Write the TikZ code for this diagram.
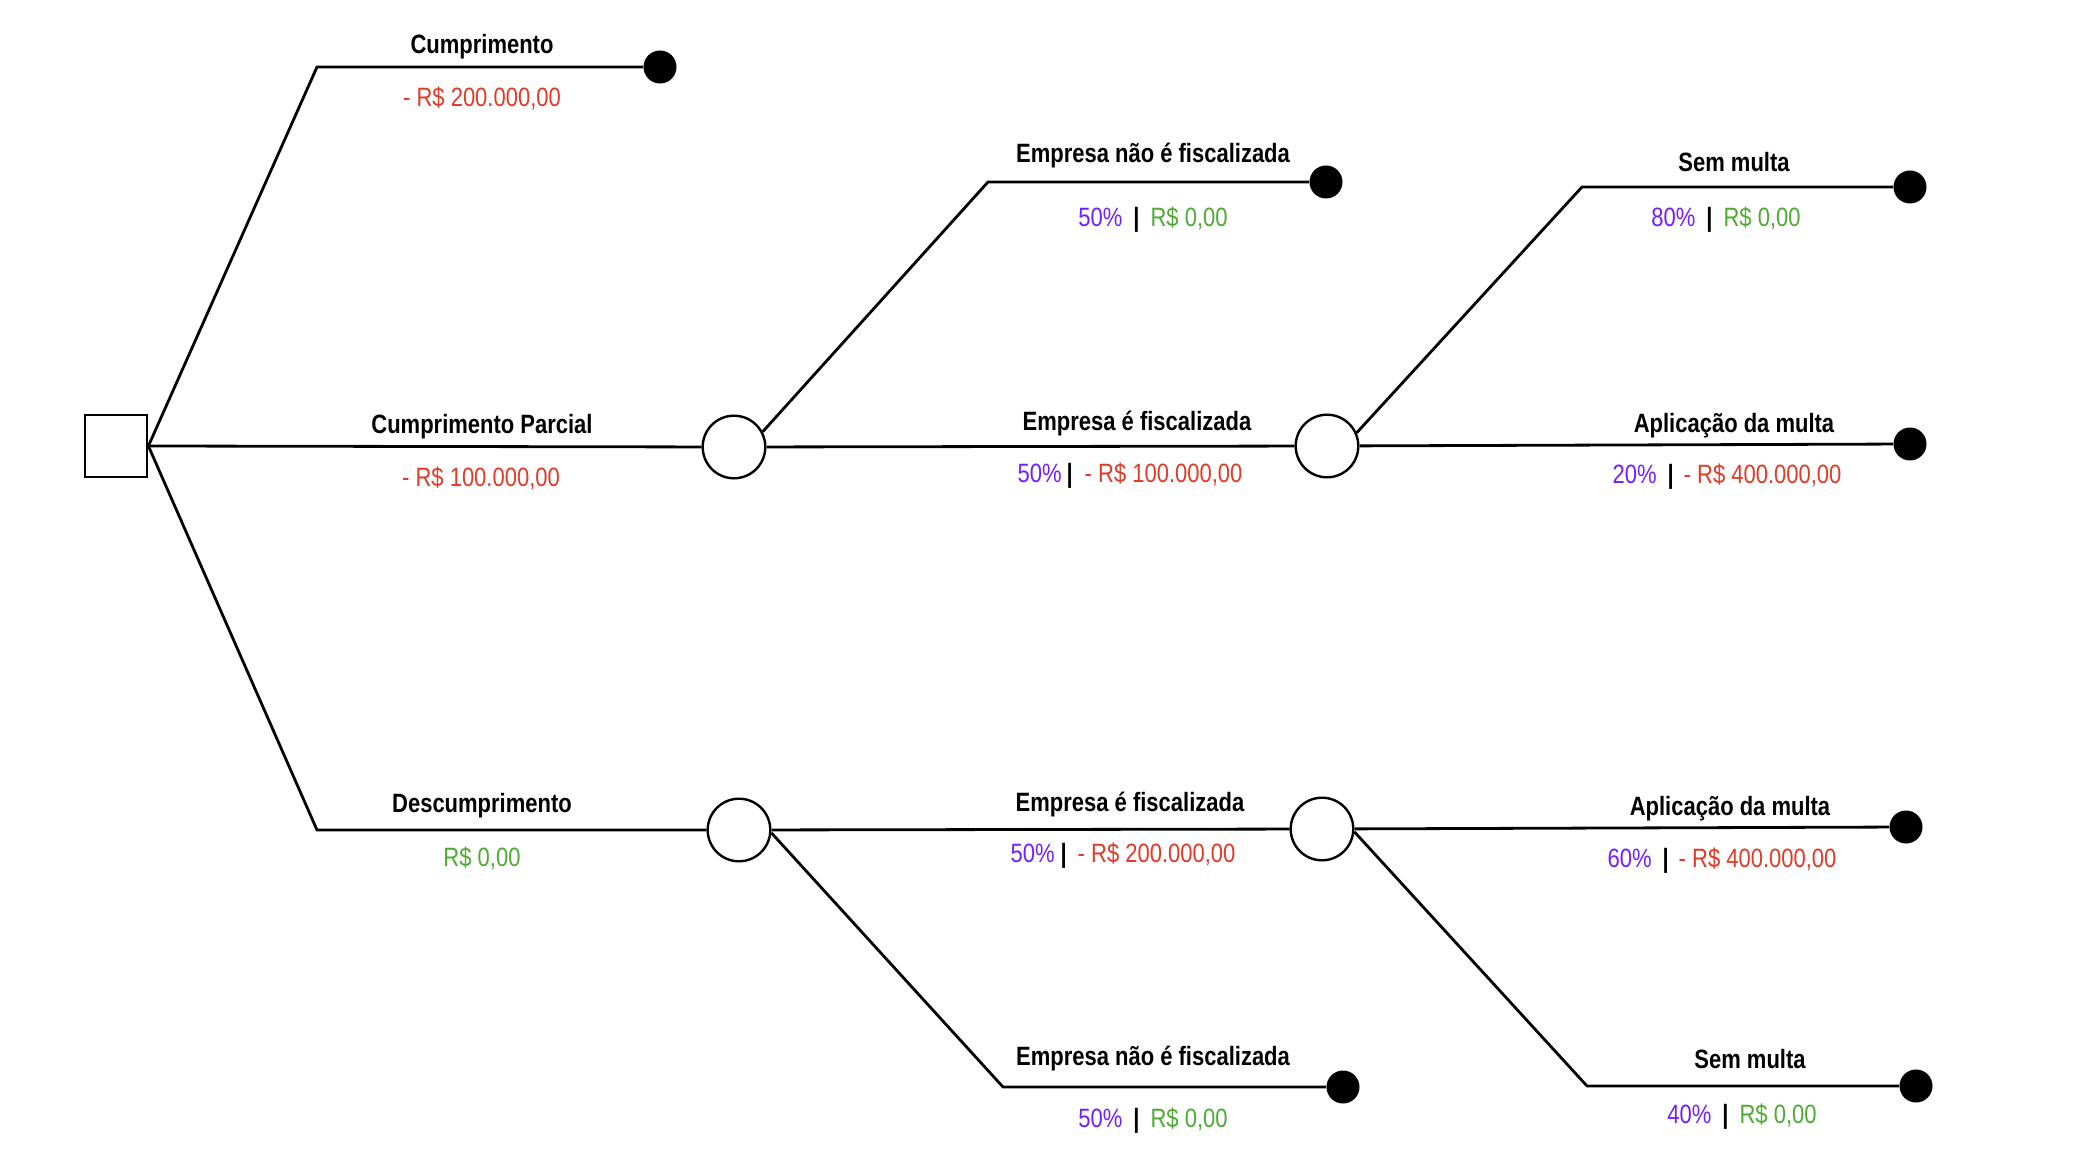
\documentclass[tikz,border=0pt]{standalone}
\usepackage{fontspec}
\setmainfont{Liberation Sans}[FakeStretch=0.83]
\definecolor{prob}{RGB}{115,30,255}
\definecolor{loss}{RGB}{224,58,40}
\definecolor{gain}{RGB}{78,170,50}
\newcommand{\vbar}[2]{\hspace{#1}\textcolor{black}{\textbf{|}}\hspace{#2}}
\begin{document}
\begin{tikzpicture}[x=0.5pt,y=0.5pt,
	decision/.style={draw,line width=1.4pt,minimum size=31pt,inner sep=0pt},
	chance/.style={circle,draw,line width=1.2pt,minimum size=31.3pt,inner sep=0pt},
	leaf/.style={circle,fill=black,minimum size=16.5pt,inner sep=0pt},
	branch/.style={line width=1.4pt},
	title/.style={anchor=base,inner sep=0pt,font=\fontsize{13.25}{16}\selectfont\bfseries},
	value/.style={anchor=base,inner sep=0pt,font=\fontsize{13.25}{16}\selectfont}]
	\useasboundingbox (0,0) rectangle (2100,-1150);
	% decision and chance nodes
	\node [decision] (root) at (116,-446) {};
	\node [chance] (c1) at (734,-447) {};
	\node [chance] (c2) at (1327,-446) {};
	\node [chance] (c3) at (739,-830) {};
	\node [chance] (c4) at (1322,-829) {};
	% end points
	\node [leaf] (l1) at (660,-67) {};
	\node [leaf] (l2) at (1326,-182) {};
	\node [leaf] (l3) at (1910,-187) {};
	\node [leaf] (l4) at (1910,-444) {};
	\node [leaf] (l5) at (1906,-827) {};
	\node [leaf] (l6) at (1343,-1087) {};
	\node [leaf] (l7) at (1916,-1086) {};
	% elbows
	\coordinate (k1) at (317,-67);
	\coordinate (k2) at (988,-182);
	\coordinate (k3) at (1582,-187);
	\coordinate (k4) at (317,-830);
	\coordinate (k5) at (1003,-1087);
	\coordinate (k6) at (1587,-1086);
	% branches
	\draw [branch] (root.east) -- (k1) -- (l1);
	\draw [branch] (root.east) -- (c1);
	\draw [branch] (root.east) -- (k4) -- (c3);
	\draw [branch] (c1.28) -- (k2) -- (l2);
	\draw [branch] (c1) -- (c2);
	\draw [branch] (c2.24) -- (k3) -- (l3);
	\draw [branch] (c2) -- (l4);
	\draw [branch] (c3) -- (c4);
	\draw [branch] (c3.-5) -- (k5) -- (l6);
	\draw [branch] (c4) -- (l5);
	\draw [branch] (c4.-5) -- (k6) -- (l7);
	% labels
	\node [title] (t1) at (482,-54) {Cumprimento};
	\node [value,loss] (v1) at (482,-107) {- R\$ 200.000,00};
	\node [title] (t2) at (482,-433) {Cumprimento Parcial};
	\node [value,loss] (v2) at (481,-486) {- R\$ 100.000,00};
	\node [title] (t3) at (482,-812) {Descumprimento};
	\node [value,gain] (v3) at (482,-866) {R\$ 0,00};
	\node [title] (t4) at (1153,-163) {Empresa não é fiscalizada};
	\node [value] (v4) at (1153,-227) {\textcolor{prob}{50\%}\vbar{5.5pt}{5.5pt}\textcolor{gain}{R\$ 0,00}};
	\node [title] (t5) at (1137,-430) {Empresa é fiscalizada};
	\node [value] (v5) at (1130,-482) {\textcolor{prob}{50\%}\vbar{2.5pt}{6pt}\textcolor{loss}{- R\$ 100.000,00}};
	\node [title] (t6) at (1734,-172) {Sem multa};
	\node [value] (v6) at (1726,-227) {\textcolor{prob}{80\%}\vbar{5.5pt}{5.5pt}\textcolor{gain}{R\$ 0,00}};
	\node [title] (t7) at (1734,-432) {Aplicação da multa};
	\node [value] (v7) at (1727,-483) {\textcolor{prob}{20\%}\vbar{5.5pt}{5pt}\textcolor{loss}{- R\$ 400.000,00}};
	\node [title] (t8) at (1130,-811) {Empresa é fiscalizada};
	\node [value] (v8) at (1123,-862) {\textcolor{prob}{50\%}\vbar{3pt}{5.5pt}\textcolor{loss}{- R\$ 200.000,00}};
	\node [title] (t9) at (1730,-815) {Aplicação da multa};
	\node [value] (v9) at (1722,-867) {\textcolor{prob}{60\%}\vbar{5.5pt}{5pt}\textcolor{loss}{- R\$ 400.000,00}};
	\node [title] (t10) at (1153,-1065) {Empresa não é fiscalizada};
	\node [value] (v10) at (1153,-1127) {\textcolor{prob}{50\%}\vbar{5.5pt}{5.5pt}\textcolor{gain}{R\$ 0,00}};
	\node [title] (t11) at (1750,-1068) {Sem multa};
	\node [value] (v11) at (1742,-1123) {\textcolor{prob}{40\%}\vbar{5.5pt}{5.5pt}\textcolor{gain}{R\$ 0,00}};
\end{tikzpicture}
\end{document}
